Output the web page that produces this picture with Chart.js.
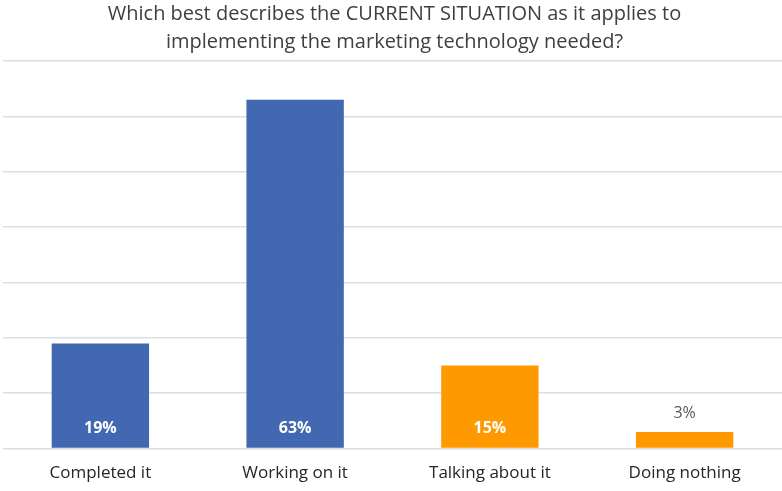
<!DOCTYPE html>
<html>
<head>
<meta charset="utf-8">
<script src="https://cdn.jsdelivr.net/npm/chart.js@4.4.1/dist/chart.umd.min.js"></script>
<style>
  html, body { margin: 0; padding: 0; background: #fff; }
  #wrap { width: 782px; height: 491px; position: relative; }
</style>
</head>
<body>
<div id="wrap"><canvas id="chart"></canvas></div>
<script>
// chart data
const categories = ['Completed it', 'Working on it', 'Talking about it', 'Doing nothing'];
const shares = [19, 63, 15, 3];
const barColors = ['#4268B1', '#4268B1', '#FF9900', '#FF9900'];
const yTicks = [0, 10, 20, 30, 40, 50, 60, 70];

// percent labels: inside bar bottom (white bold), or above short bars (gray)
const valueLabels = {
  id: 'valueLabels',
  afterDatasetsDraw(chart) {
    const ctx = chart.ctx;
    const meta = chart.getDatasetMeta(0);
    ctx.save();
    ctx.textAlign = 'center';
    ctx.textBaseline = 'middle';
    meta.data.forEach((bar, i) => {
      const v = shares[i];
      if (v >= 10) {
        ctx.font = 'bold 16px "Open Sans"';
        ctx.fillStyle = '#ffffff';
        ctx.fillText(v + '%', bar.x, bar.base - 19);
      } else {
        ctx.font = '16px "Open Sans"';
        ctx.fillStyle = '#595959';
        ctx.fillText(v + '%', bar.x, bar.y - 19);
      }
    });
    ctx.restore();
  }
};

new Chart(document.getElementById('chart'), {
  type: 'bar',
  data: {
    labels: categories,
    datasets: [{
      data: shares,
      backgroundColor: barColors,
      borderWidth: 0,
      barPercentage: 1,
      categoryPercentage: 0.5
    }]
  },
  options: {
    responsive: true,
    maintainAspectRatio: false,
    animation: false,
    // the plot runs a little past the right edge, as in the source image
    layout: { padding: { left: 3, right: -4, top: 0, bottom: 2 } },
    plugins: {
      legend: { display: false },
      tooltip: { enabled: false },
      title: {
        display: true,
        text: ['Which best describes the CURRENT SITUATION as it applies to',
               'implementing the marketing technology needed?'],
        color: '#404040',
        font: { family: 'Open Sans', size: 20, weight: 'normal', lineHeight: 1.4 },
        padding: { top: 0, bottom: 5 }
      }
    },
    scales: {
      x: {
        grid: { display: false },
        border: { display: false },
        ticks: {
          color: '#262626',
          font: { family: 'Open Sans', size: 17 },
          padding: 6
        }
      },
      y: {
        min: 0,
        max: 70,
        afterBuildTicks: (axis) => { axis.ticks = yTicks.map(v => ({ value: v })); },
        grid: { color: '#D9DEE8', lineWidth: 1.5, drawTicks: false },
        border: { display: false },
        ticks: { display: false }
      }
    }
  },
  plugins: [valueLabels]
});
</script>
</body>
</html>
